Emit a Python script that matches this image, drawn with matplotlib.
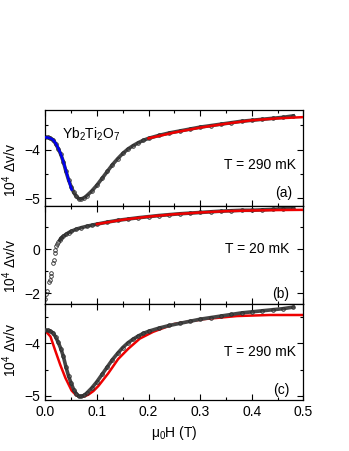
import numpy as np
import matplotlib
matplotlib.use("Agg")
import matplotlib.pyplot as plt
from matplotlib.ticker import MultipleLocator

plt.rcParams['font.family'] = ['Liberation Sans', 'DejaVu Sans']
plt.rcParams['mathtext.fontset'] = 'custom'
plt.rcParams['mathtext.rm'] = 'Liberation Sans'
plt.rcParams['mathtext.it'] = 'Liberation Sans'
plt.rcParams['mathtext.default'] = 'regular'

# 290 mK data (same measurement in panels a and c), field in T, 10^4 dv/v
h_290 = [0.0, 0.005, 0.01, 0.015, 0.02, 0.025, 0.03, 0.035, 0.04, 0.045,
         0.05, 0.055, 0.06, 0.065, 0.07, 0.075, 0.08, 0.09, 0.10, 0.11,
         0.12, 0.13, 0.14, 0.15, 0.16, 0.17, 0.18, 0.19, 0.20, 0.22,
         0.24, 0.26, 0.28, 0.30, 0.32, 0.34, 0.36, 0.38, 0.40, 0.42,
         0.44, 0.46, 0.48]
dv_290 = [-3.75, -3.75, -3.77, -3.80, -3.88, -3.98, -4.10, -4.25, -4.45, -4.62,
          -4.76, -4.88, -4.96, -5.01, -5.01, -4.99, -4.95, -4.85, -4.73, -4.59,
          -4.45, -4.31, -4.19, -4.08, -3.99, -3.92, -3.86, -3.81, -3.77, -3.71,
          -3.66, -3.62, -3.58, -3.54, -3.51, -3.48, -3.45, -3.42, -3.40, -3.38,
          -3.36, -3.34, -3.31]

# 20 mK data
h_20 = [0.0, 0.002, 0.004, 0.008, 0.009, 0.011, 0.012, 0.015, 0.016, 0.018,
        0.019, 0.021, 0.023, 0.025, 0.028, 0.03, 0.035, 0.04, 0.045, 0.05,
        0.06, 0.07, 0.08, 0.09, 0.10, 0.12, 0.14, 0.16, 0.18, 0.20,
        0.22, 0.24, 0.26, 0.28, 0.30, 0.32, 0.34, 0.36, 0.38, 0.40,
        0.42, 0.44, 0.46, 0.48]
dv_20 = [-2.25, -2.05, -1.90, -1.50, -1.40, -1.20, -1.10, -0.60, -0.50, -0.15,
         -0.05, 0.15, 0.25, 0.33, 0.42, 0.50, 0.60, 0.68, 0.76, 0.82,
         0.92, 0.99, 1.05, 1.10, 1.15, 1.24, 1.32, 1.38, 1.44, 1.49,
         1.54, 1.58, 1.62, 1.65, 1.68, 1.71, 1.74, 1.76, 1.78, 1.78,
         1.80, 1.82, 1.85, 1.88]

# fits
h_blue = [0.0, 0.005, 0.01, 0.015, 0.02, 0.025, 0.03, 0.035, 0.04, 0.045, 0.051]
dv_blue = [-3.75, -3.755, -3.77, -3.80, -3.87, -3.97, -4.09, -4.25, -4.43, -4.62, -4.82]

h_red_a = [0.20, 0.25, 0.30, 0.35, 0.40, 0.45, 0.50]
dv_red_a = [-3.77, -3.65, -3.55, -3.47, -3.40, -3.36, -3.335]

h_red_b = [0.10, 0.15, 0.20, 0.25, 0.30, 0.35, 0.40, 0.45, 0.50]
dv_red_b = [1.15, 1.35, 1.49, 1.60, 1.68, 1.74, 1.77, 1.79, 1.80]

h_red_c = [0.0, 0.01, 0.019, 0.029, 0.039, 0.051, 0.06, 0.067, 0.075, 0.083,
           0.093, 0.103, 0.122, 0.141, 0.161, 0.183, 0.209, 0.25, 0.306, 0.371,
           0.435, 0.5]
dv_red_c = [-3.76, -3.87, -4.13, -4.41, -4.66, -4.90, -4.99, -5.02, -5.01, -4.98,
            -4.91, -4.81, -4.57, -4.30, -4.10, -3.91, -3.78, -3.63, -3.54, -3.48,
            -3.46, -3.46]

fig = plt.figure(figsize=(3.49, 4.51), dpi=100)
left, width = 0.1298, 0.7398
bottoms = [0.543, 0.326, 0.113]
heights = [0.213, 0.217, 0.213]
axes = [fig.add_axes([left, b, width, h]) for b, h in zip(bottoms, heights)]

gray = '#2a2a2a'


def draw_data(ax, h, dv, hmin_line=0.0, z=2):
    h = np.asarray(h)
    dv = np.asarray(dv)
    m = h >= hmin_line
    ax.plot(h[m], dv[m], '-', color='#454545', lw=2.6, zorder=z)
    ax.plot(h, dv, 'o', ms=2.6, mfc='none', mec=gray, mew=0.6, zorder=z)


ax_a, ax_b, ax_c = axes

draw_data(ax_a, h_290, dv_290)
ax_a.plot(h_blue, dv_blue, color='#0000ee', lw=1.8, zorder=3)
ax_a.plot(h_red_a, dv_red_a, color='#ee0000', lw=1.8, zorder=3)
ax_a.set_ylim(-5.16, -3.19)
ax_a.yaxis.set_major_locator(MultipleLocator(1))
ax_a.yaxis.set_minor_locator(MultipleLocator(0.5))
ax_a.text(0.065, 0.70, r'Yb$_2$Ti$_2$O$_7$', transform=ax_a.transAxes, fontsize=10)
ax_a.text(0.97, 0.43, 'T = 290 mK', transform=ax_a.transAxes, ha='right', va='center', fontsize=10)
ax_a.text(0.955, 0.14, '(a)', transform=ax_a.transAxes, ha='right', va='center', fontsize=10)

draw_data(ax_b, h_20, dv_20, hmin_line=0.028)
ax_b.plot(h_red_b, dv_red_b, color='#ee0000', lw=1.8, zorder=3)
ax_b.set_ylim(-2.49, 1.97)
ax_b.yaxis.set_major_locator(MultipleLocator(2))
ax_b.yaxis.set_minor_locator(MultipleLocator(1))
ax_b.text(0.945, 0.56, 'T = 20 mK', transform=ax_b.transAxes, ha='right', va='center', fontsize=10)
ax_b.text(0.945, 0.105, '(b)', transform=ax_b.transAxes, ha='right', va='center', fontsize=10)

ax_c.plot(h_red_c, dv_red_c, color='#ee0000', lw=1.8, zorder=2)
draw_data(ax_c, h_290, dv_290, z=3)
ax_c.set_ylim(-5.08, -3.25)
ax_c.yaxis.set_major_locator(MultipleLocator(1))
ax_c.yaxis.set_minor_locator(MultipleLocator(0.5))
ax_c.text(0.97, 0.50, 'T = 290 mK', transform=ax_c.transAxes, ha='right', va='center', fontsize=10)
ax_c.text(0.945, 0.10, '(c)', transform=ax_c.transAxes, ha='right', va='center', fontsize=10)

label_y = [0.375, 0.39, 0.52]
for ax, ly in zip(axes, label_y):
    ax.set_xlim(0.0, 0.5)
    ax.xaxis.set_major_locator(MultipleLocator(0.1))
    ax.xaxis.set_minor_locator(MultipleLocator(0.05))
    ax.tick_params(which='both', direction='in', top=True, right=True,
                   labelsize=10, width=0.8)
    ax.tick_params(which='major', length=4)
    ax.tick_params(which='minor', length=2.5)
    for s in ax.spines.values():
        s.set_linewidth(0.9)
    ax.set_ylabel(r'10$^4$ $\Delta$v/v', fontsize=10)
    ax.yaxis.set_label_coords(-0.10, ly)

ax_a.tick_params(labelbottom=False)
ax_b.tick_params(labelbottom=False)
ax_c.set_xlabel(r'$\mu_0$H (T)', fontsize=10)

fig.savefig('out.png', dpi=100)
